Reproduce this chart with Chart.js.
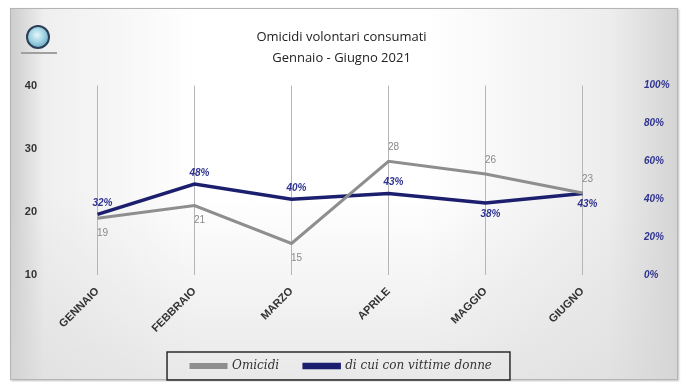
<!DOCTYPE html>
<html>
<head>
<meta charset="utf-8">
<script src="https://cdn.jsdelivr.net/npm/chart.js@4/dist/chart.umd.min.js"></script>
<style>
  body { margin: 0; background: #fff; }
  #contenitore { position: relative; width: 683px; height: 382px; }
  #cornice {
    position: absolute; left: 10px; top: 8px; width: 666px; height: 370px;
    border: 1px solid #b4b4b4;
    box-shadow: 1px 1px 2px rgba(0,0,0,0.25);
    background:
      linear-gradient(to bottom, rgba(255,255,255,0) 50%, rgba(215,215,215,0.55) 100%),
      linear-gradient(to right, #cdcdcd 0%, #efefef 5%, #ffffff 28%, #ffffff 62%, #ededed 90%, #d4d4d4 100%);
  }
  #logo {
    position: absolute; left: 26px; top: 25px; width: 20px; height: 20px; border-radius: 50%;
    border: 2px solid #2a3e55;
    background: radial-gradient(circle at 45% 40%, #e6f6fb 0%, #9fd3e3 45%, #4f93ad 100%);
  }
  #logo-sotto { position: absolute; left: 21px; top: 52px; width: 36px; height: 2px; background: #a0a0a0; }
  canvas { position: absolute; left: 0; top: 0; }
</style>
</head>
<body>
<div id="contenitore">
  <div id="cornice"></div>
  <div id="logo"></div>
  <div id="logo-sotto"></div>
  <canvas id="grafico" width="683" height="382"></canvas>
</div>
<script>
// dati
const mesi = ["GENNAIO", "FEBBRAIO", "MARZO", "APRILE", "MAGGIO", "GIUGNO"];
const omicidi = [19, 21, 15, 28, 26, 23];
const vittimeDonne = [32, 48, 40, 43, 38, 43]; // percentuale
const tickSinistra = [10, 20, 30, 40];
const tickDestra = [0, 20, 40, 60, 80, 100];

// dove mettere le etichette dei valori
const posOmicidi = ["sotto", "sotto", "sotto", "sopra", "sopra", "sopra"];
const posDonne = ["sopra", "sopra", "sopra", "sopra", "sotto", "sotto"];

const grigio = "#8e8e8e";
const blu = "#1c1f6e";

// etichette sopra/sotto i punti
const etichette = {
  id: "etichette",
  afterDatasetsDraw(chart) {
    const ctx = chart.ctx;
    ctx.save();
    ctx.textAlign = "center";
    ctx.textBaseline = "middle";
    chart.data.datasets.forEach((ds, i) => {
      const meta = chart.getDatasetMeta(i);
      meta.data.forEach((pt, j) => {
        let testo, dy;
        if (i == 0) {
          ctx.font = "10px 'Liberation Sans'";
          ctx.fillStyle = "#8a8a8a";
          testo = ds.data[j];
          dy = posOmicidi[j] == "sopra" ? -14 : 15;
        } else {
          ctx.font = "italic bold 10px 'Liberation Sans'";
          ctx.fillStyle = "#2f3390";
          testo = ds.data[j] + "%";
          dy = posDonne[j] == "sopra" ? -11 : 11;
        }
        ctx.fillText(testo, pt.x + 5, pt.y + dy);
      });
    });
    ctx.restore();
  }
};

// riquadro intorno alla legenda
const bordoLegenda = {
  id: "bordoLegenda",
  afterDraw(chart) {
    const box = chart.legend.legendHitBoxes;
    if (!box || box.length == 0) return;
    let sx = box[0].left, dx = box[0].left + box[0].width, cy = box[0].top + box[0].height / 2;
    box.forEach(b => {
      sx = Math.min(sx, b.left);
      dx = Math.max(dx, b.left + b.width);
    });
    const ctx = chart.ctx;
    ctx.save();
    ctx.strokeStyle = "#2b2b2b";
    ctx.lineWidth = 1.5;
    ctx.strokeRect(sx - 24, cy - 14, (dx - sx) + 42, 28);
    ctx.restore();
  }
};

const data = {
  labels: mesi,
  datasets: [{
    label: "Omicidi",
    data: omicidi,
    borderColor: grigio,
    backgroundColor: "#a5a5a5",
    borderWidth: 3,
    pointRadius: 0,
    yAxisID: "y"
  }, {
    label: "di cui con vittime donne",
    data: vittimeDonne,
    borderColor: blu,
    backgroundColor: blu,
    borderWidth: 3.5,
    pointRadius: 0,
    yAxisID: "y2"
  }]
};

const config = {
  type: "line",
  data: data,
  plugins: [etichette, bordoLegenda],
  options: {
    responsive: false,
    animation: false,
    devicePixelRatio: 1,
    layout: { padding: 0 },
    plugins: {
      title: {
        display: true,
        text: ["Omicidi volontari consumati", "Gennaio - Giugno 2021"],
        color: "#222",
        font: { family: "'Open Sans'", size: 13, weight: "normal", lineHeight: 1.6 },
        padding: { top: 27, bottom: 17 }
      },
      legend: {
        position: "bottom",
        maxHeight: 48,
        labels: {
          boxWidth: 35,
          boxHeight: 3,
          padding: 25,
          color: "#333",
          font: { family: "'DejaVu Serif'", size: 12, style: "italic" }
        }
      },
      tooltip: { enabled: false }
    },
    scales: {
      x: {
        offset: true,
        grid: { offset: false, color: "#b5b5b5", drawTicks: false },
        border: { display: false },
        ticks: {
          autoSkip: false,
          maxRotation: 45,
          minRotation: 45,
          padding: 10,
          color: "#333",
          font: { family: "'Liberation Sans'", size: 11, weight: "bold" }
        },
        afterFit: (scale) => { scale.height = 60; }
      },
      y: {
        position: "left",
        min: 10,
        max: 40,
        grid: { display: false },
        border: { display: false },
        afterBuildTicks: (scale) => { scale.ticks = tickSinistra.map(v => ({ value: v })); },
        ticks: {
          padding: 4,
          color: "#333",
          font: { family: "'Liberation Sans'", size: 11, weight: "bold" }
        },
        afterFit: (scale) => { scale.width = 49; }
      },
      y2: {
        position: "right",
        min: 0,
        max: 100,
        grid: { display: false },
        border: { display: false },
        afterBuildTicks: (scale) => { scale.ticks = tickDestra.map(v => ({ value: v })); },
        ticks: {
          padding: 5,
          color: "#2f3390",
          font: { family: "'Liberation Sans'", size: 10, weight: "bold", style: "italic" },
          callback: (v) => v + "%"
        },
        afterFit: (scale) => { scale.width = 52; }
      }
    }
  }
};

new Chart(document.getElementById("grafico"), config);
</script>
</body>
</html>
